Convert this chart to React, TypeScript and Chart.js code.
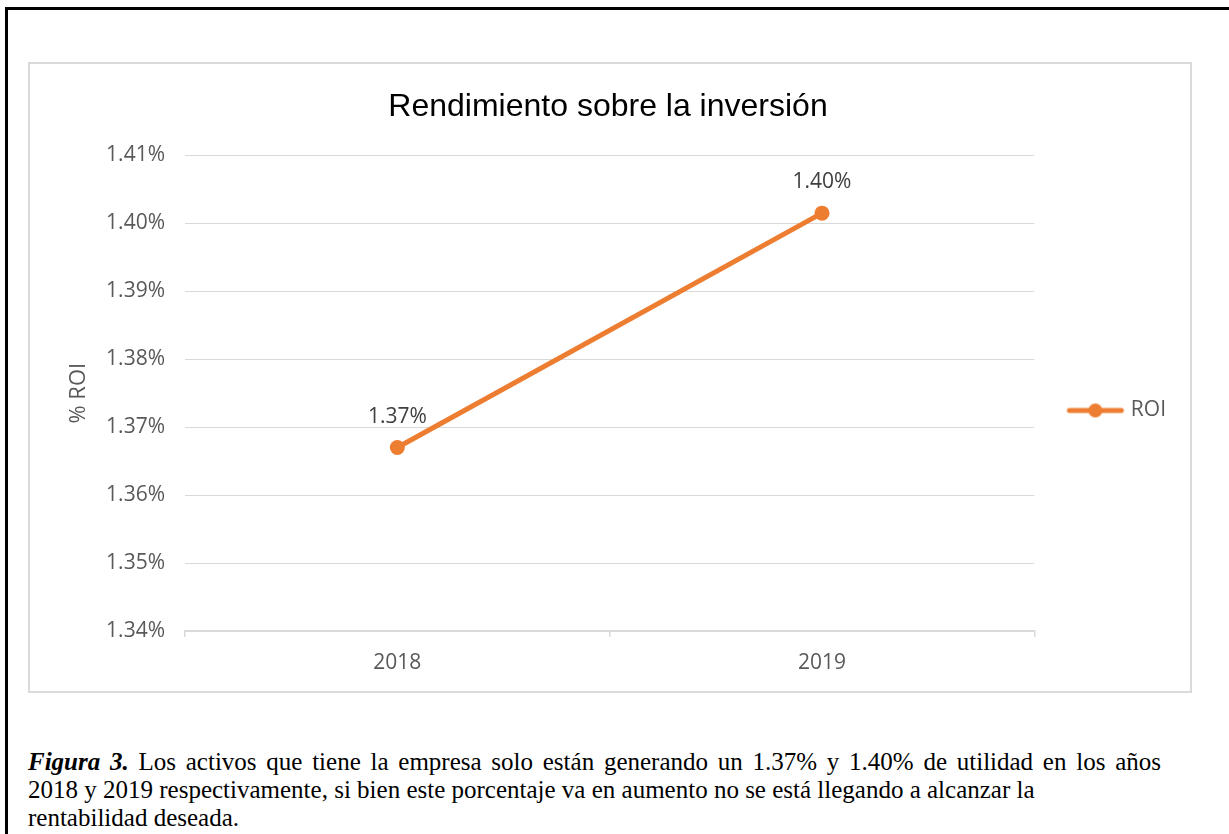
import React, { useEffect, useRef } from "react";
import { Chart, registerables } from "chart.js";

Chart.register(...registerables);

const categories = ["2018", "2019"];
const roiValues = [1.367, 1.4015];
const dataLabels = ["1.37%", "1.40%"];
const yTickMin = 1.34;
const yTickMax = 1.41;
const yTickStep = 0.01;
const seriesName = "ROI";
const chartTitle = "Rendimiento sobre la inversión";
const yAxisTitle = "% ROI";

const ORANGE = "#ED7D31";
const GRID = "#d9d9d9";
const TICK = "#595959";
const TICK_FONT = "'Open Sans', 'Liberation Sans', sans-serif";

function makeLegendIcon(): HTMLCanvasElement {
  const c = document.createElement("canvas");
  c.width = 70;
  c.height = 16;
  const ctx = c.getContext("2d")!;
  ctx.strokeStyle = ORANGE;
  ctx.lineWidth = 5;
  ctx.lineCap = "round";
  ctx.beginPath();
  ctx.moveTo(12, 8);
  ctx.lineTo(64, 8);
  ctx.stroke();
  ctx.fillStyle = ORANGE;
  ctx.beginPath();
  ctx.arc(38, 8, 7, 0, Math.PI * 2);
  ctx.fill();
  return c;
}

const dataLabelPlugin = {
  id: "dataLabelPlugin",
  afterDatasetsDraw(chart: any) {
    const ctx = chart.ctx;
    const meta = chart.getDatasetMeta(0);
    ctx.save();
    ctx.font = `21px ${TICK_FONT}`;
    ctx.fillStyle = "#404040";
    ctx.textAlign = "center";
    ctx.textBaseline = "middle";
    meta.data.forEach((pt: any, i: number) => {
      ctx.fillText(dataLabels[i], pt.x, pt.y - 31);
    });
    ctx.restore();
  },
};

export default function App() {
  const ref = useRef<HTMLCanvasElement | null>(null);

  useEffect(() => {
    if (!ref.current) return;
    const icon = makeLegendIcon();
    const chart = new Chart(ref.current, {
      type: "line",
      data: {
        labels: categories,
        datasets: [
          {
            label: seriesName,
            data: roiValues,
            borderColor: ORANGE,
            backgroundColor: ORANGE,
            borderWidth: 5,
            pointRadius: 7.5,
            pointHoverRadius: 7.5,
            pointBackgroundColor: ORANGE,
            pointBorderWidth: 0,
            pointStyle: "circle",
            borderCapStyle: "round",
          } as any,
        ],
      },
      options: {
        responsive: false,
        animation: false,
        devicePixelRatio: 1,
        layout: { padding: { left: 10, right: 14, top: 0, bottom: 0 } },
        plugins: {
          title: {
            display: true,
            text: chartTitle,
            color: "#000000",
            font: { family: "'Liberation Sans', Arial, sans-serif", size: 32, weight: "normal" },
            padding: { top: 24, bottom: 29 },
          },
          legend: {
            position: "right",
            title: {
              display: true,
              text: " ",
              font: { size: 10 },
              padding: { top: 54, bottom: 0 },
            },
            labels: {
              usePointStyle: true,
              pointStyleWidth: 56,
              color: TICK,
              font: { family: TICK_FONT, size: 21 },
              padding: 30,
              generateLabels: () => [
                {
                  text: seriesName,
                  pointStyle: icon,
                  fillStyle: ORANGE,
                  strokeStyle: ORANGE,
                  lineWidth: 0,
                  hidden: false,
                  datasetIndex: 0,
                  fontColor: TICK,
                } as any,
              ],
            },
          },
          tooltip: { enabled: false },
        },
        scales: {
          x: {
            type: "category",
            offset: true,
            grid: {
              offset: true,
              drawOnChartArea: false,
              drawTicks: true,
              tickLength: 6,
              color: GRID,
              lineWidth: 1.5,
            },
            border: { display: true, color: GRID, width: 1.5 },
            ticks: {
              color: TICK,
              font: { family: TICK_FONT, size: 21 },
              padding: 13,
            },
            afterFit: (scale: any) => {
              scale.height = 60;
            },
          },
          y: {
            min: yTickMin,
            max: yTickMax,
            grid: { color: GRID, lineWidth: 1, drawTicks: false },
            border: { display: false },
            ticks: {
              stepSize: yTickStep,
              color: TICK,
              font: { family: TICK_FONT, size: 21 },
              padding: 20,
              callback: (v: any) => Number(v).toFixed(2) + "%",
            },
            title: {
              display: true,
              text: yAxisTitle,
              color: TICK,
              font: { family: TICK_FONT, size: 22 },
              padding: { top: 26, bottom: 0 },
            },
            afterFit: (scale: any) => {
              scale.width = 145;
            },
          },
        },
      },
      plugins: [dataLabelPlugin],
    });
    return () => chart.destroy();
  }, []);

  return (
    <div
      style={{
        position: "absolute",
        left: 0,
        top: 0,
        width: 1229,
        height: 834,
        overflow: "hidden",
        background: "#ffffff",
      }}
    >
      <div
        style={{
          position: "absolute",
          left: 5,
          top: 7,
          width: 1400,
          height: 1000,
          border: "3px solid #000",
          boxSizing: "border-box",
        }}
      />
      <div
        style={{
          position: "absolute",
          left: 28,
          top: 62,
          width: 1164,
          height: 631,
          border: `2px solid ${GRID}`,
          boxSizing: "border-box",
          background: "#fff",
        }}
      >
        <canvas ref={ref} width={1160} height={627} style={{ width: 1160, height: 627, display: "block" }} />
      </div>
      <div
        style={{
          position: "absolute",
          left: 28,
          top: 748,
          fontFamily: "'Liberation Serif', 'Times New Roman', serif",
          fontSize: 25,
          lineHeight: "28px",
          color: "#000",
          whiteSpace: "nowrap",
        }}
      >
        <div style={{ wordSpacing: "3.5px" }}>
          <b><i>Figura 3.</i></b> Los activos que tiene la empresa solo están generando un 1.37% y 1.40% de utilidad en los años
        </div>
        <div>2018 y 2019 respectivamente, si bien este porcentaje va en aumento no se está llegando a alcanzar la</div>
        <div>rentabilidad deseada.</div>
      </div>
    </div>
  );
}
